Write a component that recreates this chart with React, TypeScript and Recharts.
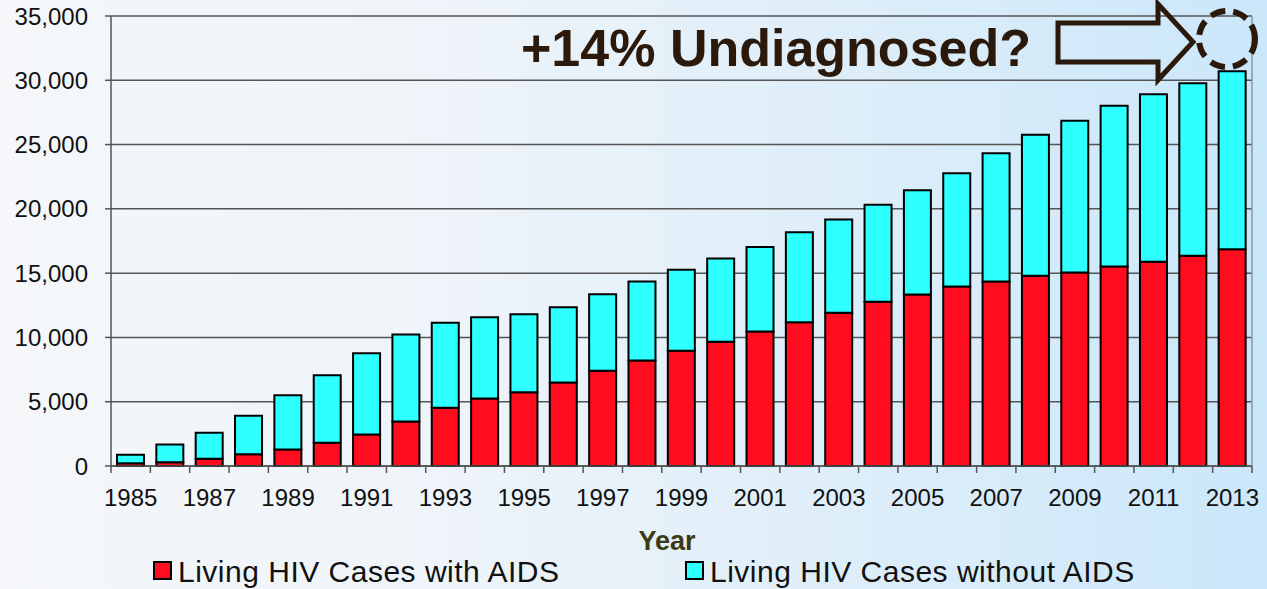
import React from 'react';
import { BarChart, Bar, XAxis, YAxis, CartesianGrid } from 'recharts';

const years = ['1985','1986','1987','1988','1989','1990','1991','1992','1993','1994','1995','1996','1997','1998','1999','2000','2001','2002','2003','2004','2005','2006','2007','2008','2009','2010','2011','2012','2013'];
const withAIDS = [220, 300, 560, 920, 1280, 1800, 2450, 3460, 4530, 5250, 5740, 6490, 7400, 8200, 8960, 9660, 10460, 11180, 11910, 12770, 13340, 13960, 14350, 14790, 15050, 15510, 15880, 16350, 16860];
const withoutAIDS = [650, 1370, 2020, 2980, 4220, 5260, 6320, 6770, 6610, 6320, 6060, 5860, 5960, 6150, 6300, 6470, 6580, 7000, 7260, 7540, 8110, 8810, 9980, 10970, 11800, 12500, 13040, 13420, 13840];
const yTicks = [0, 5000, 10000, 15000, 20000, 25000, 30000, 35000];
const seriesNames = ['Living HIV Cases with AIDS', 'Living HIV Cases without AIDS'];
const seriesColors = ['#ff0d1f', '#2effff'];
const axisTitle = 'Year';
const annotation = '+14% Undiagnosed?';

const data = years.map((y, i) => ({ year: y, withAIDS: withAIDS[i], withoutAIDS: withoutAIDS[i] }));

const W = 1267;
const H = 589;
const PLOT_LEFT = 111;
const PLOT_RIGHT = 1252;
const STEP = (PLOT_RIGHT - PLOT_LEFT) / years.length;
const FONT = '"Liberation Sans", Arial, Helvetica, sans-serif';

const XTick = (props: any) => {
  const { x, y, payload, index } = props;
  const last = index === years.length - 1;
  return (
    <g>
      <line x1={x - STEP / 2} y1={y} x2={x - STEP / 2} y2={y + 7} stroke="#555" strokeWidth={1.5} />
      {last && <line x1={x + STEP / 2} y1={y} x2={x + STEP / 2} y2={y + 7} stroke="#555" strokeWidth={1.5} />}
      {index % 2 === 0 && (
        <text x={x} y={y + 40} textAnchor="middle" fontSize={24} fill="#111" fontFamily={FONT}>
          {payload.value}
        </text>
      )}
    </g>
  );
};

export default function App() {
  return (
    <div
      style={{
        position: 'absolute',
        left: 0,
        top: 0,
        width: W,
        height: H,
        fontFamily: FONT,
        background: 'linear-gradient(to right, #f5f7f9 0%, #eef4f9 35%, #dcedf9 70%, #cbe7fa 100%)',
        overflow: 'hidden',
      }}
    >
      <BarChart
        width={W}
        height={H}
        data={data}
        margin={{ top: 16, right: 0, bottom: 0, left: 0 }}
        barSize={27}
      >
        <CartesianGrid vertical={false} stroke="#555" strokeWidth={1.5} />
        <XAxis
          dataKey="year"
          interval={0}
          height={123}
          tickSize={0}
          tickMargin={0}
          tickLine={false}
          axisLine={{ stroke: '#555', strokeWidth: 1.5 }}
          tick={<XTick />}
        />
        <YAxis
          width={111}
          domain={[0, 35000]}
          ticks={yTicks}
          interval={0}
          tickSize={6}
          tickMargin={17}
          tickLine={{ stroke: '#555', strokeWidth: 1.5 }}
          axisLine={{ stroke: '#555', strokeWidth: 1.5 }}
          tick={{ fontSize: 24, fill: '#111', fontFamily: FONT }}
          tickFormatter={(v: number) => v.toLocaleString('en-US')}
        />
        <YAxis
          yAxisId="right"
          orientation="right"
          width={15}
          tick={false}
          tickLine={false}
          axisLine={{ stroke: '#8a98a4', strokeWidth: 1.5 }}
        />
        <Bar dataKey="withAIDS" name={seriesNames[0]} stackId="a" fill={seriesColors[0]} stroke="#000" strokeWidth={2} isAnimationActive={false} />
        <Bar dataKey="withoutAIDS" name={seriesNames[1]} stackId="a" fill={seriesColors[1]} stroke="#000" strokeWidth={2} isAnimationActive={false} />
      </BarChart>
      <svg
        width={W}
        height={H}
        style={{ position: 'absolute', left: 0, top: 0, pointerEvents: 'none' }}
      >
        <text x={521} y={66} fontSize={52} fontWeight="bold" fill="#2b1a0c" fontFamily={FONT}>
          {annotation}
        </text>
        <polygon
          points="1058,23 1158,23 1158,4 1193,42 1158,80 1158,62 1058,62"
          fill="none"
          stroke="#2b1a0c"
          strokeWidth={5}
          strokeLinejoin="miter"
        />
        <circle cx={1227} cy={39} r={28} fill="none" stroke="#2b1a0c" strokeWidth={6} strokeDasharray="15 8" />
        <text x={667} y={550} fontSize={27} fontWeight="bold" fill="#3d3a12" textAnchor="middle" fontFamily={FONT}>
          {axisTitle}
        </text>
        <rect x={154} y={562} width={17} height={17} fill={seriesColors[0]} stroke="#000" strokeWidth={2} />
        <text x={178} y={582} fontSize={30} letterSpacing={0.5} fill="#111" fontFamily={FONT}>
          {seriesNames[0]}
        </text>
        <rect x={686} y={562} width={17} height={17} fill={seriesColors[1]} stroke="#000" strokeWidth={2} />
        <text x={710} y={582} fontSize={30} letterSpacing={0.5} fill="#111" fontFamily={FONT}>
          {seriesNames[1]}
        </text>
      </svg>
    </div>
  );
}
